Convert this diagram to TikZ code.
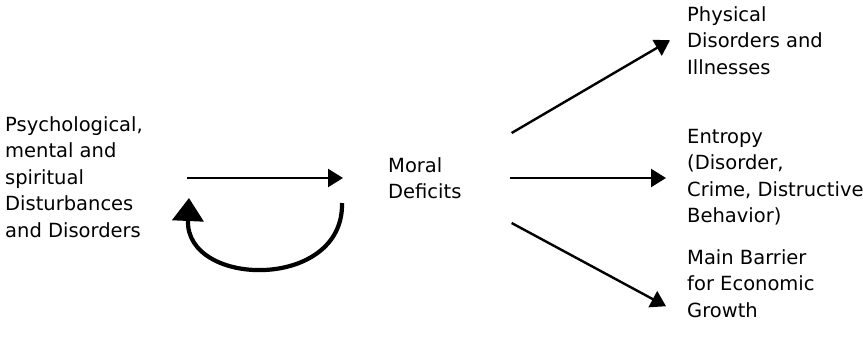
\documentclass[tikz,border=0pt]{standalone}
\usepackage{fontspec}
\setmainfont{DejaVu Sans}
\usepackage{xcolor}
\usetikzlibrary{arrows.meta, positioning, calc}

\begin{document}
\begin{tikzpicture}[x=1bp, y=-1bp,
		font=\fontsize{19.5bp}{26.5bp}\selectfont,
		txt/.style={anchor=north west, inner sep=0pt, align=left},
		flow/.style={line width=2.4bp, -{Triangle[length=15bp, width=18bp]}},
		loopback/.style={line width=4.2bp, -{Triangle[length=23bp, width=31bp]}}]
	\useasboundingbox (0,0) rectangle (863,341);
	\node[txt] (psych) at (5,116) {Psychological,\\mental and\\spiritual\\Disturbances\\and Disorders};
	\node[txt] (moral) at (388,157) {Moral\\Deficits};
	\node[txt] (phys) at (687,6) {Physical\\Disorders and\\Illnesses};
	\node[txt] (entropy) at (687,129) {Entropy\\(Disorder,\\Crime, Distructive\\Behavior)};
	\node[txt] (barrier) at (687,249) {Main Barrier\\for Economic\\Growth};
	% feedback loop
	\coordinate (loopout) at ($(moral.west)+(-46,25)$);
	\coordinate (loopin) at ($(psych.east |- moral.west)+(46,20)$);
	\draw[flow] (psych.east |- moral.west) ++(44,0) -- ($(moral.west)+(-45,0)$);
	\draw[loopback] (loopout) .. controls ($(loopout)+(2,88)$) and ($(loopin)+(-4,90)$) .. (loopin);
	% effects
	\draw[flow] ($(moral.east)+(50,-45)$) -- ($(phys.west)+(-17,0)$);
	\draw[flow] ($(moral.east)+(48,0)$) -- ($(entropy.west |- moral.east)+(-21,0)$);
	\draw[flow] ($(moral.east)+(50,45)$) -- ($(barrier.west)+(-21,23)$);
\end{tikzpicture}
\end{document}
